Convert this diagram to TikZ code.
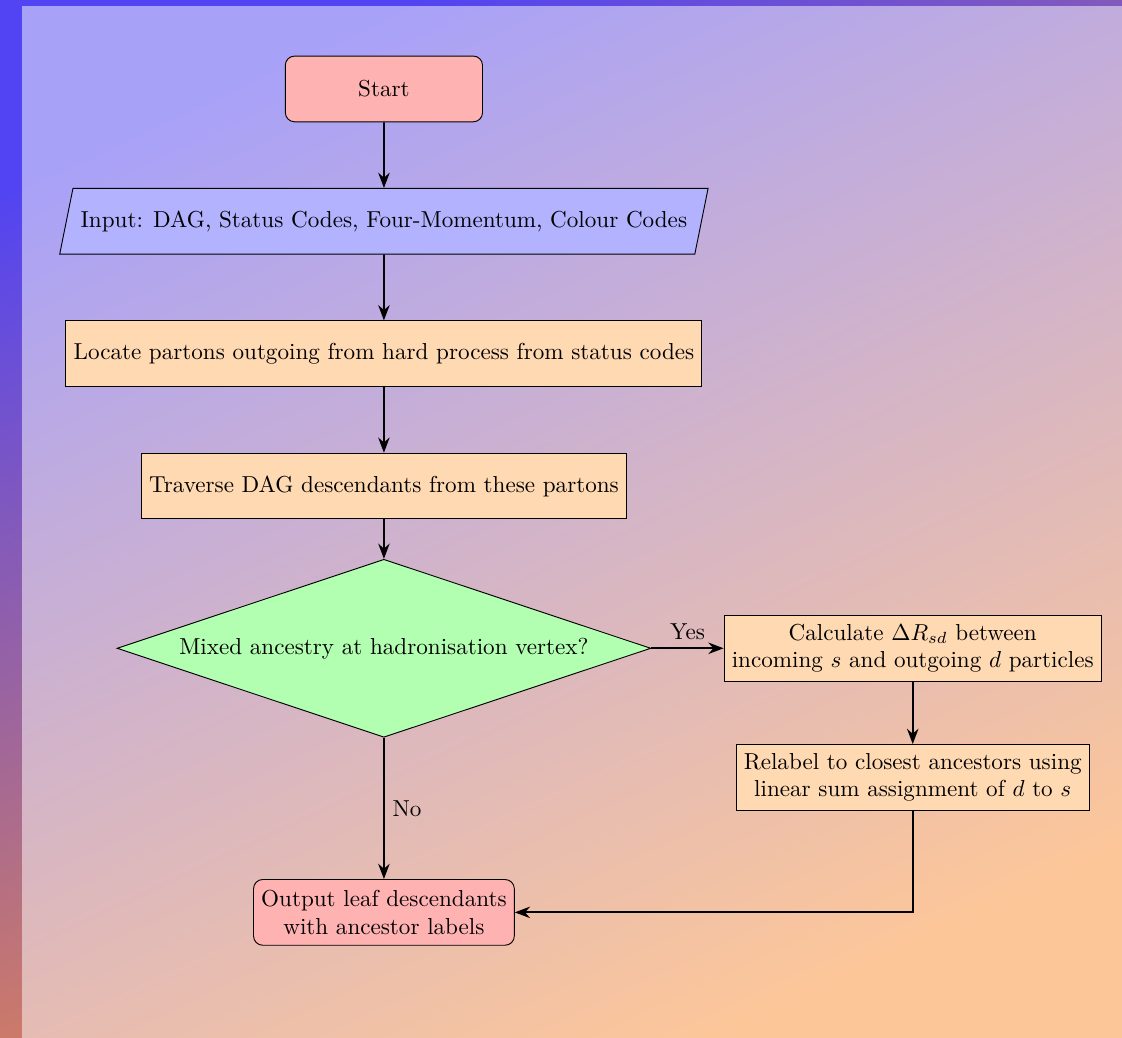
\documentclass[tikz,border=0pt]{standalone}
\usepackage{xcolor}
\usetikzlibrary{arrows.meta,positioning,shapes.geometric}
\definecolor{bgviolet}{RGB}{82,68,242}
\definecolor{bgpink}{RGB}{198,112,178}
\definecolor{bgorange}{RGB}{250,142,52}

\begin{document}
\begin{tikzpicture}[
  node distance=1cm and 1.1cm,
  startstop/.style={rectangle, rounded corners, minimum width=3cm, minimum height=1cm,
    align=center, draw=black, fill=red!30},
  io/.style={trapezium, trapezium left angle=70, trapezium right angle=110,
    trapezium stretches=true, minimum width=3cm, minimum height=1cm,
    align=center, draw=black, fill=blue!30},
  process/.style={rectangle, minimum width=3cm, minimum height=1cm,
    align=center, draw=black, fill=orange!30},
  decision/.style={diamond, aspect=3, align=center, draw=black, fill=green!30},
  arr/.style={-{Stealth}, thick}
]
  % background
  \shade[top color=bgviolet, middle color=bgpink, bottom color=bgorange, shading angle=25]
    (-166.2pt,-410.8pt) rectangle (319.5pt,38.5pt);
  \fill[white, fill opacity=0.5] (-156.7pt,-410.8pt) rectangle (319.5pt,35.9pt);

  \node[startstop] (start) at (0,0) {Start};
  \node[io, below=of start] (input) {Input: DAG, Status Codes, Four-Momentum, Colour Codes};
  \node[process, below=of input] (locate) {Locate partons outgoing from hard process from status codes};
  \node[process, below=of locate] (trav) {Traverse DAG descendants from these partons};
  \node[decision, below=0.6cm of trav] (mixed) {Mixed ancestry at hadronisation vertex?};
  \node[process, right=of mixed] (calc) {Calculate $\Delta R_{sd}$ between\\incoming $s$ and outgoing $d$ particles};
  \node[process, below=0.95cm of calc] (relabel) {Relabel to closest ancestors using\\linear sum assignment of $d$ to $s$};
  \node[startstop, below=2.15cm of mixed] (output) {Output leaf descendants\\with ancestor labels};

  \draw[arr] (start) -- (input);
  \draw[arr] (input) -- (locate);
  \draw[arr] (locate) -- (trav);
  \draw[arr] (trav) -- (mixed);
  \draw[arr] (mixed) -- node[above] {Yes} (calc);
  \draw[arr] (mixed) -- node[right] {No} (output);
  \draw[arr] (calc) -- (relabel);
  \draw[arr] (relabel) |- (output);
\end{tikzpicture}
\end{document}
